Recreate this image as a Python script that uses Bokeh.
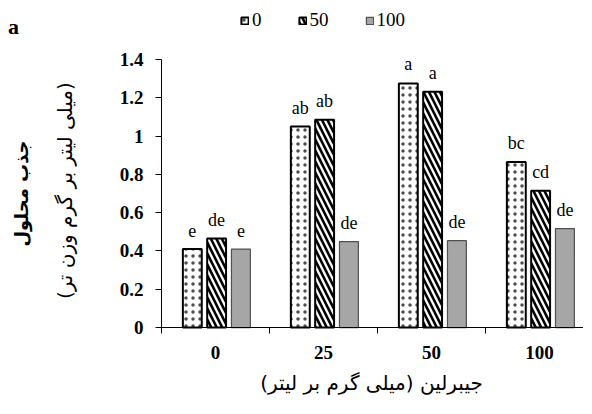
import math
from bokeh.plotting import figure
from bokeh.models import (Range1d, FixedTicker, NumeralTickFormatter, Label,
                          Legend, LegendItem, ColumnDataSource)
from bokeh.core.properties import value
from bokeh.embed import file_html
from bokeh.resources import INLINE

# ---- data ----
categories = ["0", "25", "50", "100"]          # gibberellin (mg/L)
series_names = ["0", "50", "100"]
vals_0 = [0.41, 1.05, 1.275, 0.865]
vals_50 = [0.465, 1.085, 1.232, 0.715]
vals_100 = [0.41, 0.449, 0.454, 0.517]
letters_0 = ["e", "ab", "a", "bc"]
letters_50 = ["de", "ab", "a", "cd"]
letters_100 = ["e", "de", "de", "de"]
y_ticks = [0, 0.2, 0.4, 0.6, 0.8, 1.0, 1.2, 1.4]

SERIF = "Liberation Serif"
ARABIC = "DejaVu Sans"

# frame spans whole figure; axes are pinned at data 0 (fixed_location)
p = figure(width=583, height=405, output_backend="svg", toolbar_location=None,
           x_range=Range1d(-1.491, 3.907), y_range=Range1d(-0.407, 1.708),
           min_border=0)
p.outline_line_color = None
p.xgrid.visible = False
p.ygrid.visible = False
p.background_fill_color = "white"

offsets = [-0.215, 0.01, 0.235]
bw = 0.175
styles = [
    dict(fill_color="white", line_color="black", line_width=2,
         hatch_pattern="dot", hatch_color="black", hatch_scale=7, hatch_weight=0.5,
         hatch_alpha=0.7),
    dict(fill_color="white", line_color="black", line_width=2,
         hatch_pattern="left_diagonal_line", hatch_color="black", hatch_scale=11, hatch_weight=2.6),
    dict(fill_color="#a6a6a6", line_color="#505050", line_width=1.2),
]
all_vals = [vals_0, vals_50, vals_100]
all_letters = [letters_0, letters_50, letters_100]
renderers = []
for k in range(3):
    xs = [i + 0.5 + offsets[k] for i in range(len(categories))]
    src = ColumnDataSource(dict(x=xs, top=all_vals[k], lab=all_letters[k]))
    r = p.vbar(x="x", top="top", bottom=0, width=bw, source=src, **styles[k])
    renderers.append(r)
    p.text(x="x", y="top", text="lab", source=src, text_align="center",
           text_baseline="middle", y_offset=-19, text_font=value(SERIF),
           text_font_size="18px", text_color="black")

# axes
xa = p.xaxis[0]
xa.fixed_location = 0
xa.bounds = (0, 4)
xa.ticker = FixedTicker(ticks=[i + 0.5 for i in range(len(categories))],
                        minor_ticks=list(range(len(categories) + 1)))
xa.major_label_overrides = {i + 0.5: c for i, c in enumerate(categories)}
xa.major_tick_out = 0
xa.major_tick_in = 0
xa.minor_tick_out = 6
xa.minor_tick_in = 0
xa.minor_tick_line_color = "black"
xa.axis_line_color = "black"
xa.major_label_text_font = SERIF
xa.major_label_text_font_style = "bold"
xa.major_label_text_font_size = "19px"
xa.major_label_text_color = "black"
xa.major_label_standoff = 12

ya = p.yaxis[0]
ya.fixed_location = 0
ya.bounds = (0, 1.4)
ya.ticker = FixedTicker(ticks=y_ticks, minor_ticks=[])
ya.formatter = NumeralTickFormatter(format="0.[0]")
ya.major_tick_out = 6
ya.major_tick_in = 0
ya.minor_tick_out = 0
ya.axis_line_color = "black"
ya.major_tick_line_color = "black"
ya.major_label_text_font = SERIF
ya.major_label_text_font_style = "bold"
ya.major_label_text_font_size = "19px"
ya.major_label_text_color = "black"
ya.major_label_standoff = 12

# x-axis title
p.add_layout(Label(x=1.944, y=-0.287, text="جیبرلین (میلی گرم بر لیتر)",
                   text_align="center", text_baseline="middle",
                   text_font=ARABIC, text_font_size="20px", text_color="black"))
# y-axis title (two lines)
p.add_layout(Label(x=-1.296, y=0.70, text="جذب محلول", angle=math.pi / 2,
                   text_align="center", text_baseline="middle",
                   text_font=ARABIC, text_font_style="bold",
                   text_font_size="18px", text_color="black"))
p.add_layout(Label(x=-0.898, y=0.715, text="(میلی لیتر بر گرم وزن تر)",
                   angle=math.pi / 2, text_align="center", text_baseline="middle",
                   text_font=ARABIC, text_font_size="20px", text_color="black"))
# panel letter
p.add_layout(Label(x=-1.37, y=1.572, text="a", text_align="center",
                   text_baseline="middle", text_font=SERIF, text_font_style="bold",
                   text_font_size="22px", text_color="black"))

legend = Legend(items=[LegendItem(label=series_names[k], renderers=[renderers[k]])
                       for k in range(3)],
                orientation="horizontal", location=(240, 374),
                glyph_width=9, glyph_height=9, label_standoff=3, spacing=36,
                padding=0, margin=0, border_line_color=None,
                background_fill_alpha=0, label_text_font=SERIF,
                label_text_font_size="19px", label_text_color="black",
                label_height=14, label_width=1)
p.add_layout(legend, "center")

open("out.html", "w").write(file_html(p, INLINE))
